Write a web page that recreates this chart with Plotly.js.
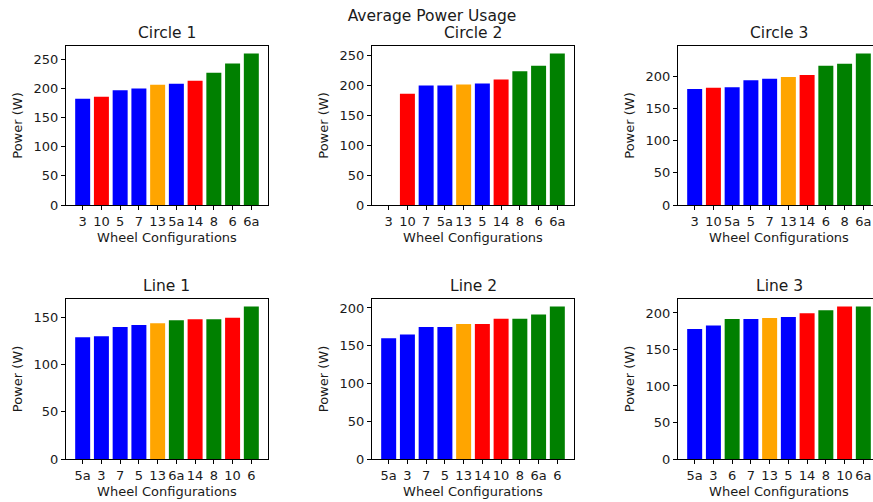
<!DOCTYPE html>
<html>
<head>
<meta charset="utf-8">
<script src="https://cdn.plot.ly/plotly-3.0.1.min.js"></script>
<style>
html, body { margin: 0; padding: 0; overflow: hidden; background: #fff; }
#chart { width: 900px; height: 502px; }
</style>
</head>
<body>
<div id="chart"></div>
<script>
// ---- data ----
const suptitle = 'Average Power Usage';
const panelTitles = ['Circle 1', 'Circle 2', 'Circle 3', 'Line 1', 'Line 2', 'Line 3'];

const circle1Configs = ['3', '10', '5', '7', '13', '5a', '14', '8', '6', '6a'];
const circle1Power   = [182.6, 186, 197, 200, 206.5, 208, 213.5, 227, 243, 260];

const circle2Configs = ['3', '10', '7', '5a', '13', '5', '14', '8', '6', '6a'];
const circle2Power   = [0, 185.5, 199.4, 199.4, 201, 202.8, 209.4, 223, 232, 252.5];

const circle3Configs = ['3', '10', '5a', '5', '7', '13', '14', '6', '8', '6a'];
const circle3Power   = [180.8, 182.9, 183.4, 194.3, 196.9, 199.5, 202.6, 217, 220, 236];

const line1Configs = ['5a', '3', '7', '5', '13', '6a', '14', '8', '10', '6'];
const line1Power   = [129, 130, 139.7, 141.8, 143.6, 146.8, 147.9, 147.9, 149.6, 161.3];

const line2Configs = ['5a', '3', '7', '5', '13', '14', '10', '8', '6a', '6'];
const line2Power   = [160, 165, 174.8, 174.8, 178.8, 178.8, 185.8, 185.8, 191.2, 201.8];

const line3Configs = ['5a', '3', '6', '7', '13', '5', '14', '8', '10', '6a'];
const line3Power   = [178, 183, 191.8, 191.8, 193.2, 194.5, 199.5, 203.7, 208.7, 208.7];

const xLabel = 'Wheel Configurations';
const yLabel = 'Power (W)';

// colour per wheel configuration
const configColor = {
  '3': 'blue', '5': 'blue', '7': 'blue', '5a': 'blue',
  '10': 'red', '14': 'red',
  '13': 'orange',
  '8': 'green', '6': 'green', '6a': 'green'
};

// ---- layout (pixels) ----
const W = 900, H = 502;
const colLeft = [66, 372, 678];
const plotW = 202;
const rowTop = [46, 299];
const rowBottom = [205, 459];

const panels = [
  [circle1Configs, circle1Power],
  [circle2Configs, circle2Power],
  [circle3Configs, circle3Power],
  [line1Configs, line1Power],
  [line2Configs, line2Power],
  [line3Configs, line3Power]
];

const font = 'DejaVu Sans, sans-serif';
const txt = '#1a1a1a';
const traces = [];
const layout = {
  width: W, height: H,
  margin: {l: 0, r: 0, t: 0, b: 0},
  paper_bgcolor: '#fff', plot_bgcolor: '#fff',
  showlegend: false,
  font: {family: font, color: txt, size: 13},
  title: {
    text: suptitle, font: {size: 15.5, family: font, color: txt},
    x: 432 / W, xanchor: 'center', xref: 'paper',
    y: 1 - 16 / H, yanchor: 'middle', yref: 'container'
  },
  bargap: 0.2,
  annotations: []
};

panels.forEach((p, i) => {
  const [cfg, pw] = p;
  const row = Math.floor(i / 3), col = i % 3;
  const n = i + 1;
  const xa = 'xaxis' + (n === 1 ? '' : n), ya = 'yaxis' + (n === 1 ? '' : n);
  const xs = 'x' + (n === 1 ? '' : n), ys = 'y' + (n === 1 ? '' : n);
  traces.push({
    type: 'bar', x: cfg, y: pw, xaxis: xs, yaxis: ys,
    marker: {color: cfg.map(c => configColor[c]), line: {width: 0}},
    hoverinfo: 'x+y'
  });
  const x0 = colLeft[col] / W, x1 = (colLeft[col] + plotW) / W;
  const y0 = 1 - rowBottom[row] / H, y1 = 1 - rowTop[row] / H;
  const nCat = cfg.length;
  const pad = (nCat - 1 + 0.8) * 0.05;
  layout[xa] = {
    domain: [x0, x1], anchor: ys, type: 'category',
    range: [-0.4 - pad, nCat - 1 + 0.4 + pad],
    showline: true, mirror: true, linecolor: '#000', linewidth: 1,
    ticks: 'outside', ticklen: 4, tickwidth: 1, tickcolor: '#000',
    showgrid: false, zeroline: false, fixedrange: true,
    tickfont: {size: 13, family: font, color: txt},
    title: {text: xLabel, font: {size: 13, family: font, color: txt}, standoff: 5}
  };
  const ymax = Math.max(...pw) * 1.05;
  layout[ya] = {
    domain: [y0, y1], anchor: xs, range: [0, ymax], dtick: 50, tick0: 0,
    showline: true, mirror: true, linecolor: '#000', linewidth: 1,
    ticks: 'outside', ticklen: 4, tickwidth: 1, tickcolor: '#000',
    showgrid: false, zeroline: false, fixedrange: true,
    tickfont: {size: 13, family: font, color: txt},
    title: {text: yLabel, font: {size: 13, family: font, color: txt}, standoff: 8}
  };
  layout.annotations.push({
    text: panelTitles[i], xref: 'paper', yref: 'paper',
    x: (x0 + x1) / 2, xanchor: 'center',
    y: y1 + 13 / H, yanchor: 'middle',
    showarrow: false, font: {size: 15.5, family: font, color: txt}
  });
});

Plotly.newPlot('chart', traces, layout, {displayModeBar: false, staticPlot: true});
</script>
</body>
</html>
